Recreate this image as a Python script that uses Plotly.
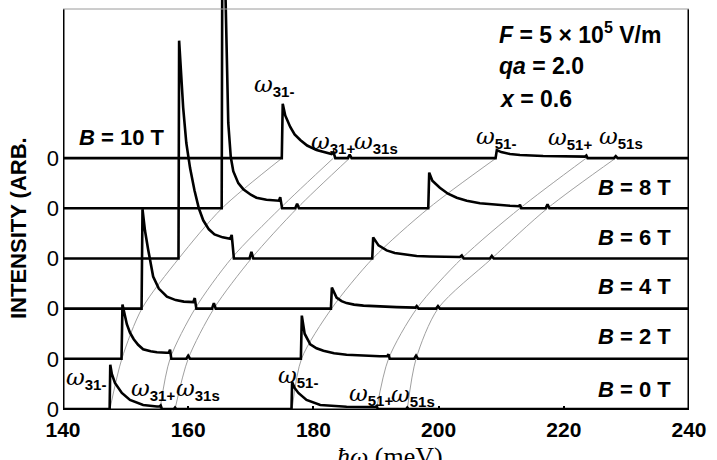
import plotly.graph_objects as go

# ---------------- data ----------------
B_fields = [0, 2, 4, 6, 8, 10]
offsets = [0, 1, 2, 3, 4, 5]
b_texts = ["<i>B</i> = 0 T", "<i>B</i> = 2 T", "<i>B</i> = 4 T",
           "<i>B</i> = 6 T", "<i>B</i> = 8 T", "<i>B</i> = 10 T"]

# transition energies (meV) for B = 0,2,4,6,8,10 T
w31_minus = [147.5, 149.4, 152.6, 158.5, 165.4, 175.0]
w31_plus = [155.5, 157.1, 161.1, 166.9, 174.7, 183.2]
w31_s = [157.9, 160.0, 164.1, 170.1, 177.4, 185.8]
w51_minus = [176.6, 178.1, 182.9, 189.5, 198.4, 209.2]
w51_plus = [190.1, 192.0, 196.5, 203.7, 213.0, 223.6]
w51_s = [195.0, 196.4, 199.9, 208.5, 217.4, 228.3]

# spectra: photon energy (meV) and intensity (arb. units)
w_B0 = [140, 147.45, 147.55, 147.8, 148.3, 149.4, 150.7, 152.8, 155.0, 155.4, 155.6, 155.8,
        157.7, 157.9, 158.1, 176.5, 176.6, 177.0, 177.6, 178.9, 181.1, 185.3, 189.9, 190.1,
        190.3, 194.8, 195.0, 195.2, 240]
I_B0 = [0, 0, 0.88, 0.70, 0.52, 0.32, 0.18, 0.08, 0.05, 0.05, 0.07, 0,
        0, 0.03, 0, 0, 0.54, 0.42, 0.32, 0.18, 0.08, 0.046, 0.04, 0.06,
        0, 0, 0.03, 0, 0]

w_B2 = [140, 149.35, 149.5, 149.8, 150.2, 150.7, 151.3, 152.0, 152.8, 154.0, 155.0, 156.5,
        156.9, 157.1, 157.3, 159.7, 160.0, 160.3, 178.0, 178.15, 178.6, 179.5, 180.5, 181.6,
        183.3, 185.3, 188.0, 190.6, 191.8, 192.0, 192.2, 196.1, 196.4, 196.7, 240]
I_B2 = [0, 0, 1.08, 0.90, 0.69, 0.52, 0.39, 0.28, 0.19, 0.15, 0.13, 0.12,
        0.12, 0.18, 0, 0, 0.06, 0, 0, 0.86, 0.50, 0.29, 0.21, 0.16,
        0.11, 0.08, 0.06, 0.05, 0.05, 0.09, 0, 0, 0.06, 0, 0]

w_B4 = [140, 152.55, 152.7, 153.1, 153.6, 154.4, 155.3, 156.6, 158.0, 159.3, 160.8, 161.05,
        161.3, 163.8, 164.1, 164.4, 182.8, 182.95, 183.7, 184.5, 185.3, 186.5, 188.0, 190.6,
        193.3, 196.3, 196.5, 196.8, 199.6, 199.9, 200.2, 240]
I_B4 = [0, 0, 1.98, 1.55, 1.18, 0.64, 0.40, 0.24, 0.17, 0.14, 0.13, 0.21,
        0, 0, 0.11, 0, 0, 0.42, 0.22, 0.15, 0.11, 0.08, 0.06, 0.04,
        0.03, 0.02, 0.05, 0, 0, 0.05, 0, 0]

w_B6 = [140, 158.45, 158.55, 158.8, 159.2, 159.7, 160.3, 161.0, 161.7, 162.4, 163.3, 164.2,
        165.5, 166.7, 166.95, 167.3, 169.8, 170.1, 170.4, 189.4, 189.55, 190.4, 191.7, 193.0,
        194.4, 196.5, 198.6, 203.4, 203.7, 204.0, 208.2, 208.5, 208.8, 240]
I_B6 = [0, 0, 4.34, 3.80, 3.00, 2.30, 1.80, 1.36, 1.00, 0.76, 0.58, 0.48,
        0.42, 0.39, 0.47, 0, 0, 0.13, 0, 0, 0.42, 0.26, 0.16, 0.11,
        0.08, 0.05, 0.04, 0.03, 0.06, 0, 0, 0.05, 0, 0]

w_B8 = [140, 165.35, 165.45, 165.9, 166.0, 166.2, 166.4, 166.8, 167.2, 168.0, 168.8, 170.0,
        170.9, 172.5, 174.1, 174.5, 174.7, 175.0, 177.1, 177.4, 177.7, 198.35, 198.5, 199.0,
        200.2, 201.5, 202.9, 204.5, 206.6, 209.0, 211.4, 212.8, 213.0, 213.2, 217.1, 217.4,
        217.7, 240]
I_B8 = [0, 0, 5.20, 4.60, 4.00, 2.40, 1.70, 1.02, 0.74, 0.50, 0.38, 0.27,
        0.21, 0.17, 0.15, 0.15, 0.22, 0, 0, 0.09, 0, 0, 0.71, 0.55,
        0.41, 0.29, 0.21, 0.15, 0.10, 0.07, 0.05, 0.04, 0.07, 0, 0, 0.08,
        0, 0]

w_B10 = [140, 174.95, 175.1, 175.5, 176.3, 177.0, 177.9, 179.0, 180.5, 182.0, 182.9, 183.2,
         183.5, 185.5, 185.8, 186.1, 209.1, 209.3, 210.0, 211.4, 213.0, 216.7, 220.0, 223.4,
         223.6, 223.8, 228.0, 228.3, 228.6, 240]
I_B10 = [0, 0, 1.08, 0.85, 0.62, 0.47, 0.36, 0.25, 0.16, 0.11, 0.08, 0.12,
         0, 0, 0.07, 0, 0, 0.16, 0.12, 0.08, 0.06, 0.04, 0.035, 0.03,
         0.05, 0, 0, 0.04, 0, 0]

x_ticks = [140, 160, 180, 200, 220, 240]

# ---------------- layout geometry ----------------
W, H = 717, 460
PL, PR, PT, PB = 63, 689, 0, 410          # plot area in pixels
X0, X1 = 140, 240
Y0, Y1 = -0.02, 8.15


def dx(px):
    return X0 + (px - PL) * (X1 - X0) / (PR - PL)


def dy(py):
    return Y0 + (PB - py) * (Y1 - Y0) / (PB - PT)


fig = go.Figure()

# gray guide lines connecting the features from B=0 to B=10
for feat in [w31_minus, w31_plus, w31_s, w51_minus, w51_plus, w51_s]:
    fig.add_trace(go.Scatter(x=feat, y=offsets, mode="lines",
                             line=dict(color="#a0a0a0", width=1, shape="spline", smoothing=0.8),
                             hoverinfo="skip", showlegend=False))

spectra_w = [w_B0, w_B2, w_B4, w_B6, w_B8, w_B10]
spectra_I = [I_B0, I_B2, I_B4, I_B6, I_B8, I_B10]
for w, I, off in zip(spectra_w, spectra_I, offsets):
    fig.add_trace(go.Scatter(x=w, y=[v + off for v in I], mode="lines",
                             line=dict(color="black", width=2.6),
                             showlegend=False))

# frame
top = dy(9)
frame = [
    dict(x0=X0, x1=X0, y0=Y0, y1=top, color="black", width=3),
    dict(x0=X1, x1=X1, y0=Y0, y1=top, color="black", width=3),
    dict(x0=X0, x1=X1, y0=Y0, y1=Y0, color="black", width=3),
    dict(x0=X0, x1=X1, y0=top, y1=top, color="#9a9a9a", width=1),
]
for f in frame:
    fig.add_shape(type="line", xref="x", yref="y", x0=f["x0"], x1=f["x1"], y0=f["y0"], y1=f["y1"],
                  line=dict(color=f["color"], width=f["width"]), layer="above")

SANS = "Liberation Sans"
SERIF = "DejaVu Serif"


def ann(text, px, py, size=22, xanchor="left", family=SANS, weight="bold", style="normal", angle=0,
        yanchor="middle"):
    fig.add_annotation(x=dx(px), y=dy(py), xref="x", yref="y", text=text, showarrow=False,
                       xanchor=xanchor, yanchor=yanchor, textangle=angle,
                       font=dict(family=family, size=size, color="black", weight=weight, style=style))


# B labels
ann(b_texts[5], 77, 137)
for i, py in zip(range(5), [389, 336, 286, 237, 187]):
    ann(b_texts[i], 673, py, xanchor="right")

# parameters
ann("<i>F</i> = 5 × 10<sup>5</sup> V/m", 497, 33, size=23)
ann("<i>qa</i> = 2.0", 497, 66, size=23)
ann("<i>x</i> = 0.6", 497, 99, size=23)


def omega(sub):
    return ("<i>ω</i><sub><span style='font-family:Liberation Sans;font-weight:bold;"
            "font-style:normal;font-size:15px'>" + sub + "</span></sub>")


top_labels = [("31-", 252, 85), ("31+", 309, 142), ("31s", 352, 142),
              ("51-", 474, 137), ("51+", 546, 138), ("51s", 597, 137)]
bot_labels = [("31-", 64, 378), ("31+", 129, 389), ("31s", 174, 389),
              ("51-", 276, 376), ("51+", 347, 394), ("51s", 389, 395)]
for sub, px, py in top_labels + bot_labels:
    ann(omega(sub), px, py, size=23, family=SERIF, weight="normal")

# axis titles
fig.add_annotation(x=(18 - PL) / (PR - PL), y=(PB - 228) / (PB - PT), xref="paper", yref="paper",
                   text="INTENSITY (ARB.", showarrow=False, textangle=-90,
                   xanchor="center", yanchor="middle",
                   font=dict(family=SANS, size=22, color="black", weight="bold"))
fig.add_annotation(x=(390 - PL) / (PR - PL), y=(PB - 440) / (PB - PT), xref="paper", yref="paper",
                   text="<i>ħω</i> (meV)", showarrow=False, xanchor="center", yanchor="top",
                   font=dict(family="Liberation Serif", size=26, color="black"))

fig.update_layout(
    width=W, height=H,
    margin=dict(l=PL, r=W - PR, t=PT, b=H - PB, pad=0),
    paper_bgcolor="white", plot_bgcolor="white",
    font=dict(family=SANS, color="black"),
    showlegend=False,
    xaxis=dict(range=[X0, X1], tickvals=x_ticks, ticks="inside", ticklen=4, tickwidth=2,
               tickcolor="black", showgrid=False, zeroline=False, showline=False,
               tickfont=dict(family=SANS, size=21, color="black", weight="bold"),
               ticklabelstandoff=5, automargin=False),
    yaxis=dict(range=[Y0, Y1], tickvals=offsets, ticktext=["0"] * 6, ticks="",
               showgrid=False, zeroline=False, showline=False,
               tickfont=dict(family=SANS, size=22, color="black"),
               ticklabelstandoff=3, automargin=False),
)

fig.write_html("out.html")
